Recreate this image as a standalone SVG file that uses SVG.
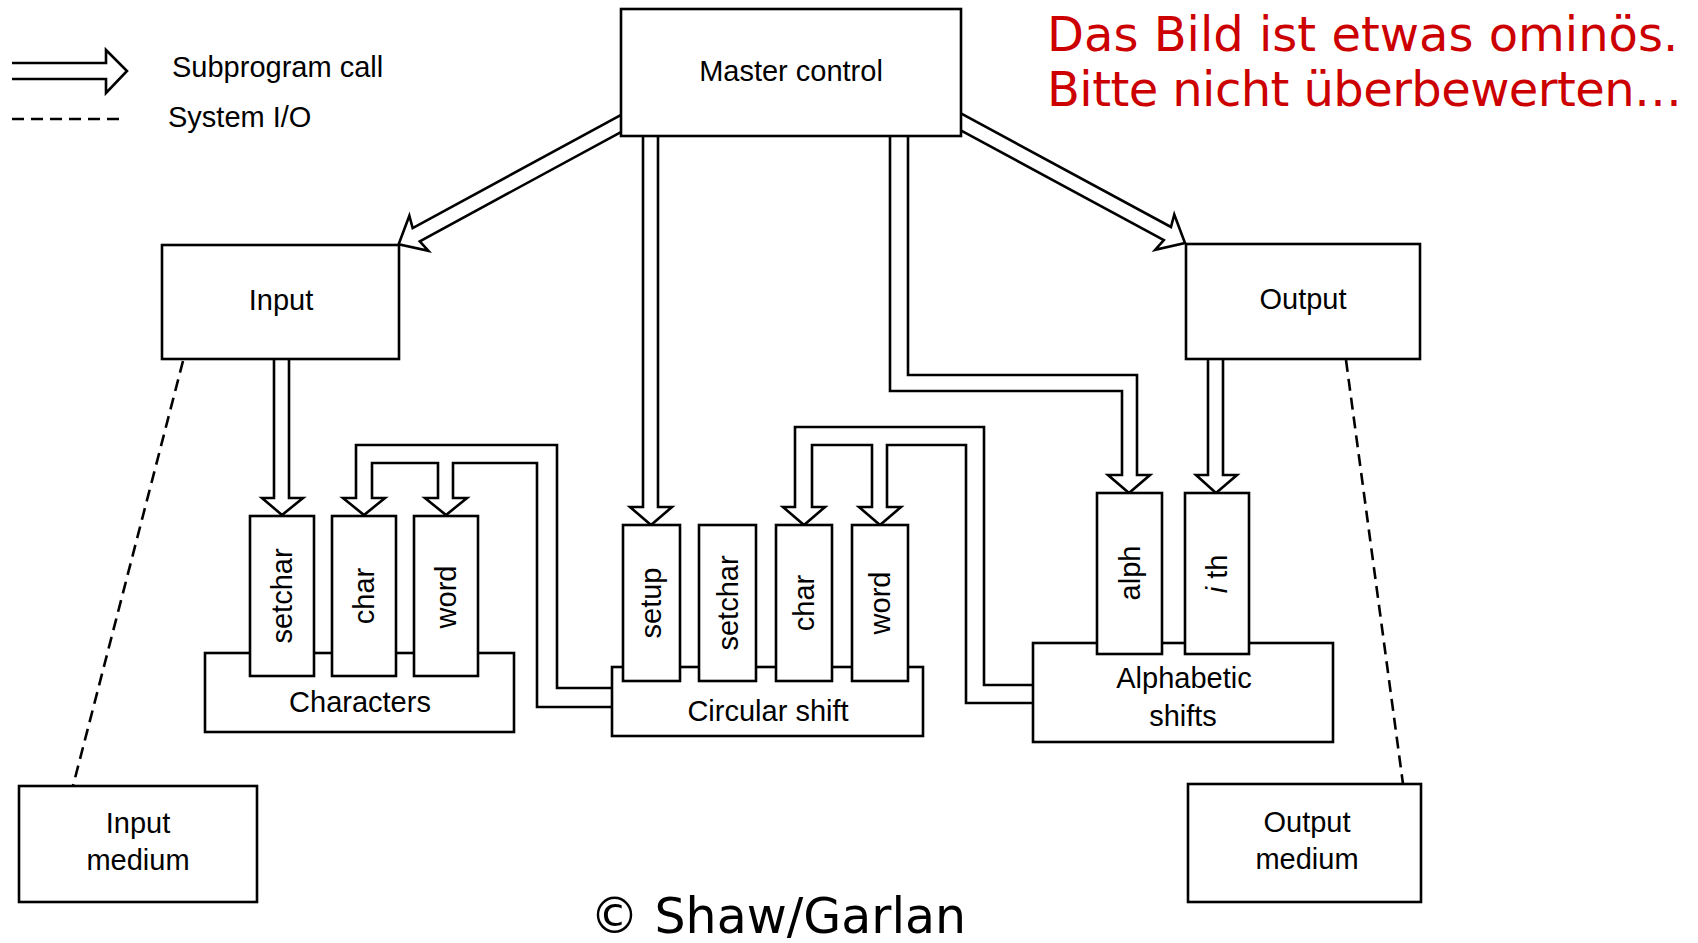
<svg xmlns="http://www.w3.org/2000/svg" width="1698" height="943" viewBox="0 0 1698 943">
<style>
.box{fill:#fff;stroke:#000;stroke-width:2.6}
.fat{fill:#fff;stroke:#000;stroke-width:2.6;stroke-linejoin:miter}
.dash{fill:none;stroke:#000;stroke-width:2.6;stroke-dasharray:12 7}
.lbl{font-family:"Liberation Sans",Arial,sans-serif;font-size:29px;fill:#000;text-anchor:middle}
.note{font-family:"DejaVu Sans",Verdana,sans-serif;font-size:48px}
</style>
<rect width="1698" height="943" fill="#fff"/>

<g id="legend">
  <path class="fat" d="M12,63 H106 V50 L127,71 L106,93 V79 H12"/>
  <line class="dash" x1="12" y1="119" x2="124" y2="119"/>
  <text class="lbl" x="172" y="77" style="text-anchor:start">Subprogram call</text>
  <text class="lbl" x="168" y="127" style="text-anchor:start">System I/O</text>
</g>

<g id="connectors">
  <!-- Master control -> Input -->
  <path class="fat" transform="translate(621,123.5) rotate(151.5)" d="M-10,-7.5 H233 L230,-20 L253,0 L230,20 L233,7.5 H-10"/>
  <!-- Master control -> Output -->
  <path class="fat" transform="translate(962,122.5) rotate(28.4)" d="M-10,-7.5 H233.5 L230.5,-20 L253.5,0 L230.5,20 L233.5,7.5 H-10"/>
  <!-- Master control -> setup -->
  <path class="fat" d="M643,130 V507 H630 L651,525 L672,507 H658 V130"/>
  <!-- Master control -> alph -->
  <path class="fat" d="M908,130 V375 H1137 V475 H1150 L1129,493 L1108,475 H1122 V391 H890 V130"/>
  <!-- Input -> setchar -->
  <path class="fat" d="M274,355 V498 H262 L282,515 L303,498 H289 V355"/>
  <!-- Output -> ith -->
  <path class="fat" d="M1208,355 V475 H1196 L1216,493 L1237,475 H1223 V355"/>
  <!-- Circular shift -> Characters char/word -->
  <path class="fat" d="M614,688 H557 V445 H356 V498 H343 L364,515 L385,498 H372 V463 H438 V498 H425 L446,515 L467,498 H453 V463 H537 V707 H614"/>
  <!-- Alphabetic shifts -> Circular shift char/word -->
  <path class="fat" d="M1035,685 H984 V427 H795 V507 H783 L804,525 L825,507 H812 V445 H872 V507 H859 L880,525 L901,507 H887 V445 H966 V703 H1035"/>
  <!-- System I/O -->
  <line class="dash" x1="183" y1="361" x2="73" y2="786"/>
  <line class="dash" x1="1346" y1="360" x2="1403" y2="784"/>
</g>

<g id="master">
  <rect class="box" x="621" y="9" width="340" height="127"/>
  <text class="lbl" x="791" y="81">Master control</text>
</g>

<g id="input">
  <rect class="box" x="162" y="245" width="237" height="114"/>
  <text class="lbl" x="281" y="310">Input</text>
</g>

<g id="output">
  <rect class="box" x="1186" y="244" width="234" height="115"/>
  <text class="lbl" x="1303" y="309">Output</text>
</g>

<g id="characters">
  <rect class="box" x="205" y="653" width="309" height="79"/>
  <text class="lbl" x="360" y="712">Characters</text>
</g>
<g id="characters-setchar">
  <rect class="box" x="250" y="516" width="64" height="160"/>
  <text class="lbl" transform="translate(292,596) rotate(-90)">setchar</text>
</g>
<g id="characters-char">
  <rect class="box" x="332" y="516" width="64" height="160"/>
  <text class="lbl" transform="translate(374,596) rotate(-90)">char</text>
</g>
<g id="characters-word">
  <rect class="box" x="414" y="516" width="64" height="160"/>
  <text class="lbl" transform="translate(456,597) rotate(-90)">word</text>
</g>

<g id="circular">
  <rect class="box" x="612" y="667" width="311" height="69"/>
  <text class="lbl" x="768" y="721">Circular shift</text>
</g>
<g id="circular-setup">
  <rect class="box" x="623" y="525" width="57" height="156"/>
  <text class="lbl" transform="translate(661,603) rotate(-90)">setup</text>
</g>
<g id="circular-setchar">
  <rect class="box" x="699" y="525" width="57" height="156"/>
  <text class="lbl" transform="translate(738,603) rotate(-90)">setchar</text>
</g>
<g id="circular-char">
  <rect class="box" x="776" y="525" width="56" height="156"/>
  <text class="lbl" transform="translate(814,603) rotate(-90)">char</text>
</g>
<g id="circular-word">
  <rect class="box" x="852" y="525" width="56" height="156"/>
  <text class="lbl" transform="translate(890,603) rotate(-90)">word</text>
</g>

<g id="alphabetic">
  <rect class="box" x="1033" y="643" width="300" height="99"/>
  <text class="lbl" x="1184" y="688">Alphabetic</text>
  <text class="lbl" x="1183" y="726">shifts</text>
</g>
<g id="alphabetic-alph">
  <rect class="box" x="1097" y="493" width="65" height="161"/>
  <text class="lbl" transform="translate(1140,573) rotate(-90)">alph</text>
</g>
<g id="alphabetic-ith">
  <rect class="box" x="1185" y="493" width="64" height="161"/>
  <text class="lbl" transform="translate(1227,574) rotate(-90)"><tspan font-style="italic">i</tspan> th</text>
</g>

<g id="input-medium">
  <rect class="box" x="19" y="786" width="238" height="116"/>
  <text class="lbl" x="138" y="833">Input</text>
  <text class="lbl" x="138" y="870">medium</text>
</g>

<g id="output-medium">
  <rect class="box" x="1188" y="784" width="233" height="118"/>
  <text class="lbl" x="1307" y="832">Output</text>
  <text class="lbl" x="1307" y="869">medium</text>
</g>

<g id="annotations">
  <text class="note" x="1047" y="51" fill="#CC0000">Das Bild ist etwas ominös.</text>
  <text class="note" x="1047" y="106" fill="#CC0000" textLength="635" lengthAdjust="spacing">Bitte nicht überbewerten…</text>
  <text class="note" x="778" y="933" fill="#000" text-anchor="middle" style="font-size:49px">© Shaw/Garlan</text>
</g>
</svg>
